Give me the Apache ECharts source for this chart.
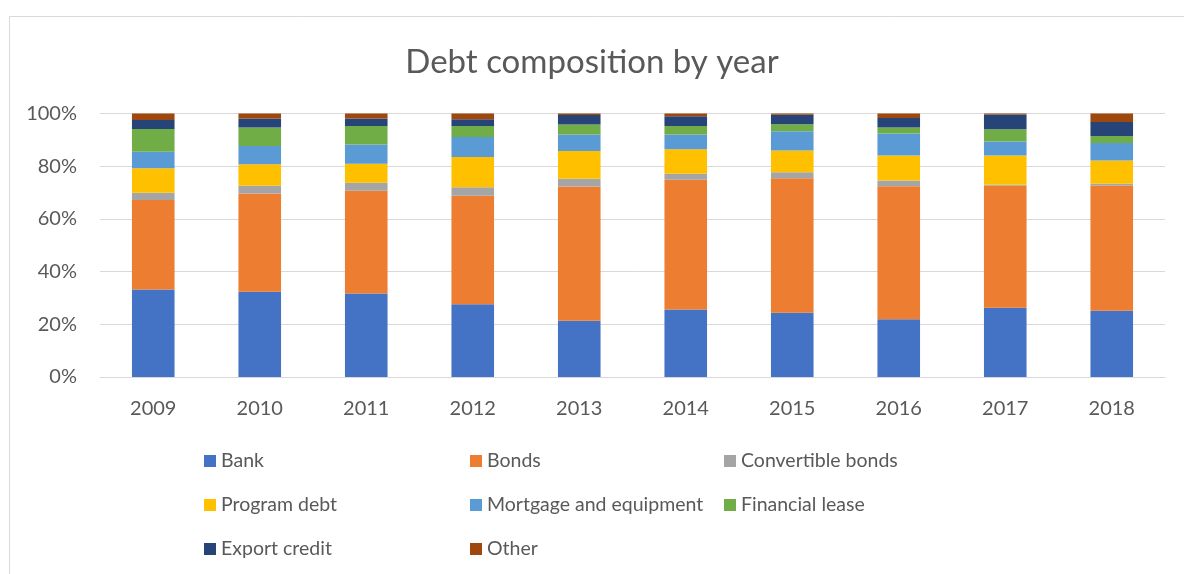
<!DOCTYPE html>
<html>
<head>
<meta charset="utf-8">
<script src="https://cdn.jsdelivr.net/npm/echarts@6/dist/echarts.min.js"></script>
<style>
  html, body { margin: 0; padding: 0; background: #fff; }
  #chart { width: 1184px; height: 574px; }
</style>
</head>
<body>
<div id="chart"></div>
<script>
// Years on the category axis
const years = ['2009', '2010', '2011', '2012', '2013', '2014', '2015', '2016', '2017', '2018'];

// Share of total debt per year, in percent
const bank        = [33.2, 32.4, 31.7, 27.6, 21.3, 25.6, 24.4, 21.9, 26.3, 25.1];
const bonds       = [34.0, 37.2, 39.0, 41.2, 51.0, 49.3, 51.0, 50.5, 46.3, 47.5];
const convertible = [2.7, 3.0, 3.0, 3.2, 2.9, 2.2, 2.3, 2.2, 0.4, 0.7];
const programDebt = [9.3, 8.1, 7.2, 11.5, 10.6, 9.3, 8.3, 9.5, 11.1, 8.9];
const mortgage    = [6.3, 7.0, 7.3, 7.6, 6.2, 5.6, 7.3, 8.3, 5.3, 6.6];
const finLease    = [8.6, 7.0, 7.1, 4.2, 3.8, 3.3, 2.6, 2.3, 4.6, 2.7];
const exportCred  = [3.4, 3.4, 2.8, 2.5, 3.6, 3.7, 3.6, 3.6, 5.6, 5.3];
const other       = [2.5, 1.9, 1.9, 2.2, 0.6, 1.0, 0.5, 1.7, 0.4, 3.2];

// Y-axis tick values
const yTicks = [0, 20, 40, 60, 80, 100];

const seriesDefs = [
  { name: 'Bank', data: bank, color: '#4472C4' },
  { name: 'Bonds', data: bonds, color: '#ED7D31' },
  { name: 'Convertible bonds', data: convertible, color: '#A5A5A5' },
  { name: 'Program debt', data: programDebt, color: '#FFC000' },
  { name: 'Mortgage and equipment', data: mortgage, color: '#5B9BD5' },
  { name: 'Financial lease', data: finLease, color: '#70AD47' },
  { name: 'Export credit', data: exportCred, color: '#264478' },
  { name: 'Other', data: other, color: '#9E480E' }
];

const FONT = 'Lato, "Open Sans", sans-serif';
const TEXT = '#595959';

const legendCommon = {
  orient: 'vertical',
  top: 446,
  itemWidth: 12,
  itemHeight: 12,
  itemGap: 24,
  icon: 'rect',
  textStyle: { fontFamily: FONT, fontSize: 19.5, color: TEXT },
  selectedMode: false
};

const chart = echarts.init(document.getElementById('chart'), null, { renderer: 'canvas' });

chart.setOption({
  animation: false,
  backgroundColor: '#ffffff',
  title: {
    text: 'Debt composition by year',
    left: 'center',
    top: 41,
    textStyle: { fontFamily: FONT, fontSize: 33, fontWeight: 'normal', color: TEXT }
  },
  graphic: [{
    type: 'rect',
    shape: { x: 9.5, y: 16.5, width: 1200, height: 600 },
    style: { fill: 'none', stroke: '#D9D9D9', lineWidth: 1 },
    silent: true,
    z: -1
  }],
  legend: [
    Object.assign({}, legendCommon, { left: 199, data: ['Bank', 'Program debt', 'Export credit'] }),
    Object.assign({}, legendCommon, { left: 465, data: ['Bonds', 'Mortgage and equipment', 'Other'] }),
    Object.assign({}, legendCommon, { left: 719, data: ['Convertible bonds', 'Financial lease'] })
  ],
  grid: { left: 100, right: 19, top: 113.5, bottom: 197, containLabel: false },
  xAxis: {
    type: 'category',
    data: years,
    axisLine: { lineStyle: { color: '#D9D9D9' } },
    axisTick: { show: false },
    axisLabel: { fontFamily: FONT, fontSize: 20, color: TEXT, margin: 22 }
  },
  yAxis: {
    type: 'value',
    min: yTicks[0],
    max: yTicks[yTicks.length - 1],
    interval: yTicks[1] - yTicks[0],
    axisLine: { show: false },
    axisTick: { show: false },
    splitLine: { lineStyle: { color: '#D9D9D9' } },
    axisLabel: {
      fontFamily: FONT, fontSize: 20, color: TEXT, margin: 23,
      formatter: v => v + '%'
    }
  },
  series: seriesDefs.map(s => ({
    name: s.name,
    type: 'bar',
    stack: 'total',
    barCategoryGap: '60%',
    data: s.data,
    itemStyle: { color: s.color }
  }))
});
</script>
</body>
</html>
